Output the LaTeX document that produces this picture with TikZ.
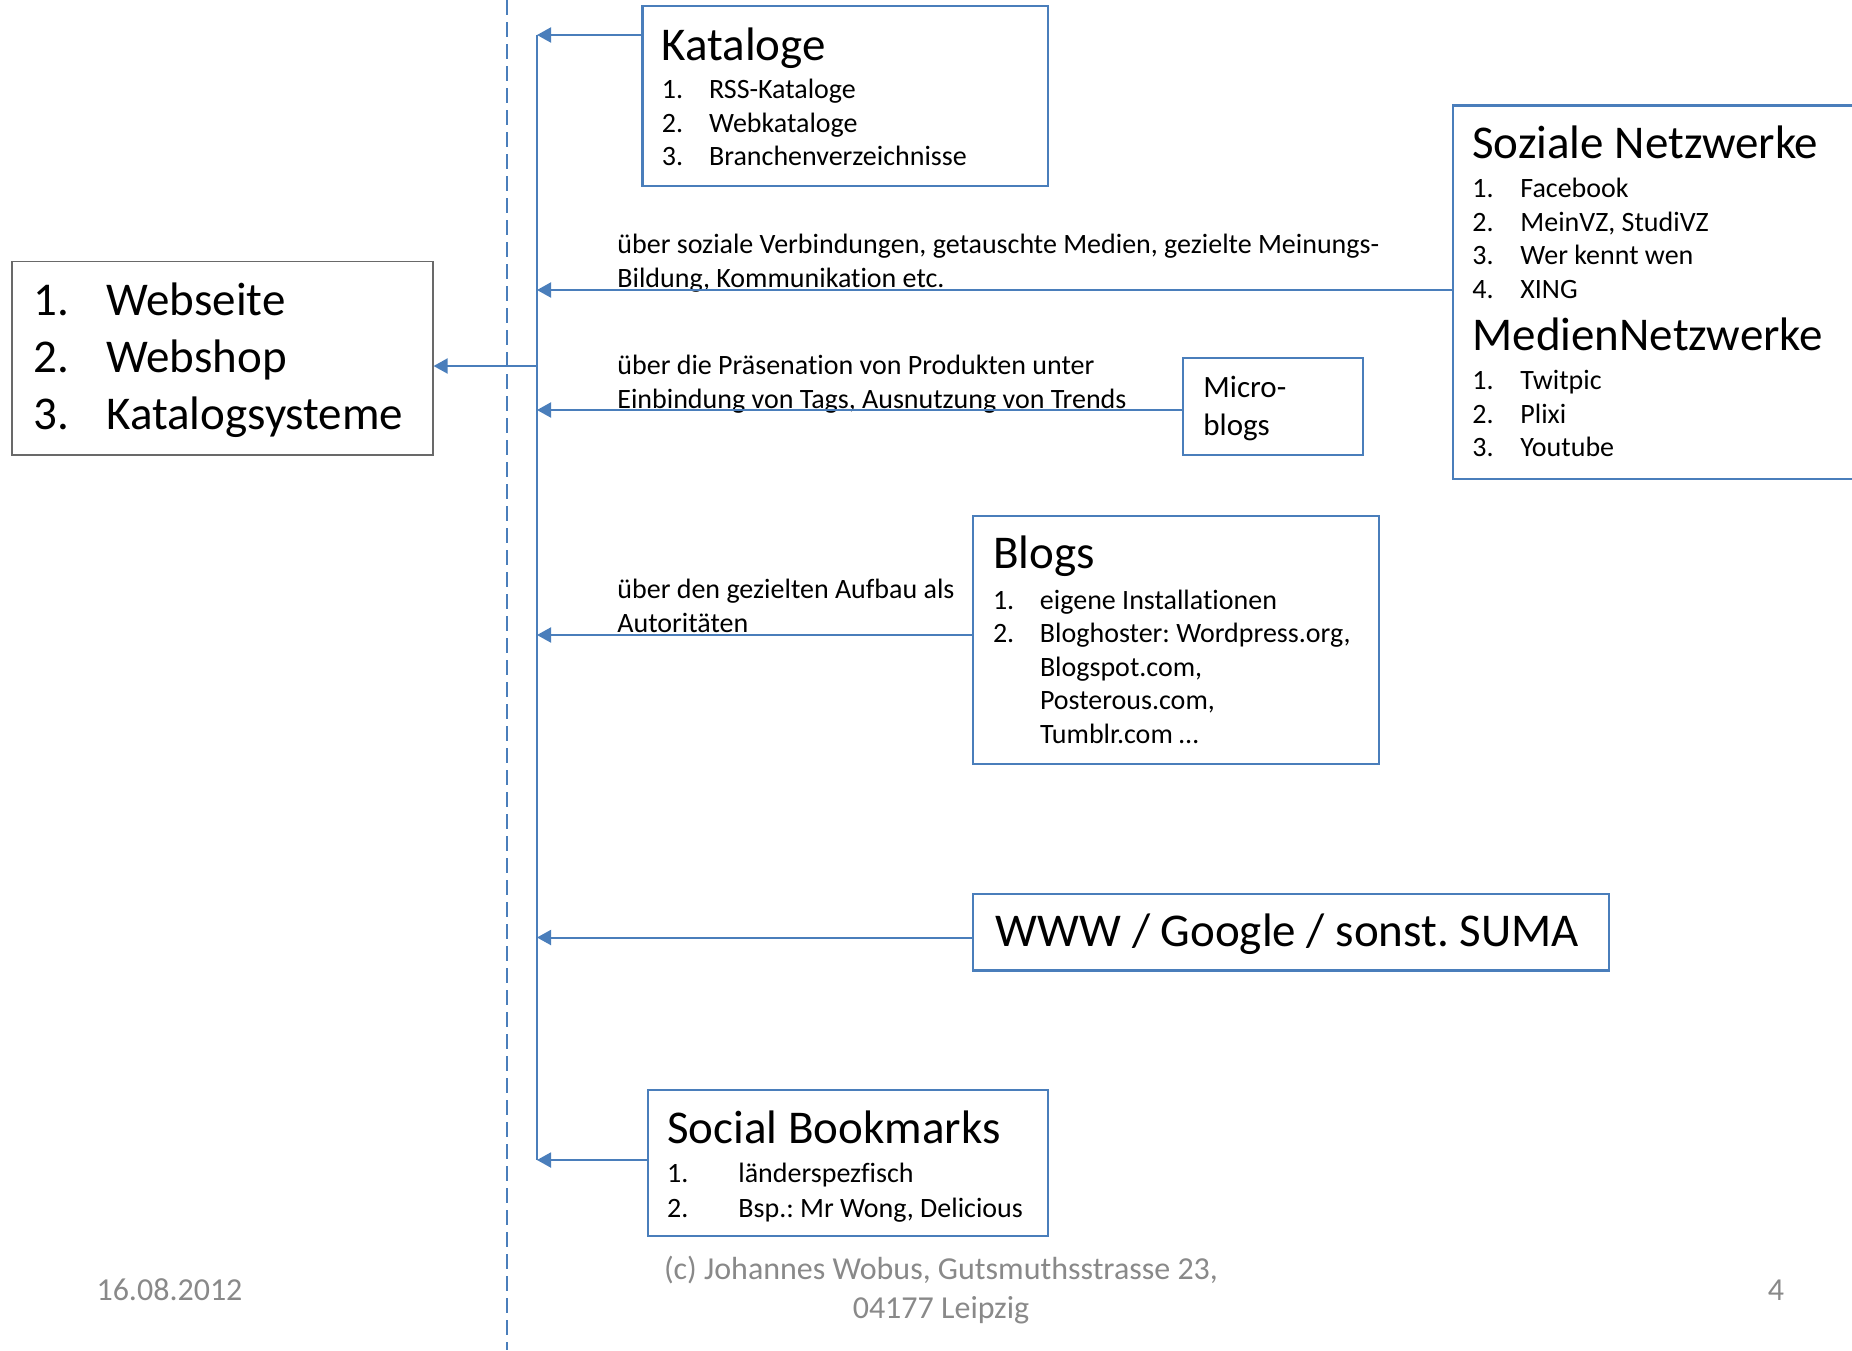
\documentclass[tikz,border=0pt]{standalone}
\usepackage{fontspec}
\setmainfont{Carlito}[Ligatures=CommonOff]
\frenchspacing
\usetikzlibrary{arrows.meta}
\definecolor{accent}{RGB}{74,126,187}
\definecolor{footgray}{RGB}{137,137,137}
\definecolor{boxgray}{RGB}{105,105,105}
\tikzset{
  lbl/.style={anchor=base west, inner sep=0pt, font=\fontsize{14}{16.8}\selectfont},
  big/.style={font=\fontsize{23.5}{28}\selectfont},
  mid/.style={font=\fontsize{15.5}{18.6}\selectfont},
  ttl/.style={anchor=base west, inner sep=0pt, font=\fontsize{23.5}{28}\selectfont},
  boxstyle/.style={draw=accent, line width=1.1pt, anchor=north west, inner sep=0pt},
  graybox/.style={draw=boxgray, line width=0.8pt},
  arr/.style={draw=accent, line width=1pt, -{Triangle[length=7pt,width=7.5pt]}},
  trunk/.style={draw=accent, line width=1pt},
  dashline/.style={draw=accent, line width=0.9pt, dash pattern=on 7.5pt off 3.5pt},
  foot/.style={text=footgray, font=\fontsize{16}{19.5}\selectfont, inner sep=0pt, anchor=base},
}
\newcommand\entry[6][]{\node[lbl,#1] (#2) at (#3) {\makebox[#4][l]{#5}#6};}
\newcommand\bx[6][]{\node[boxstyle,#1,minimum width={(#5-#3)*0.5pt},minimum height={(#6-#4)*0.5pt}] (#2) at (#3,#4) {};}
\begin{document}
\begin{tikzpicture}[x=0.5pt,y=-0.5pt]
\clip (0,0) rectangle (1852,1350);
\useasboundingbox (0,0) rectangle (1852,1350);

% dashed separator
\coordinate (dtop) at (507,0);
\coordinate (dbot) at (507,1350);
\draw[dashline] (dtop) -- (dbot);

% trunk
\coordinate (tK) at (537,35);
\coordinate (tS) at (537,290);
\coordinate (tL) at (537,366);
\coordinate (tM) at (537,410);
\coordinate (tB) at (537,635);
\coordinate (tW) at (537,937.5);
\coordinate (tSB) at (537,1160);
\draw[trunk] (tK) -- (tSB);

% left box
\bx[graybox]{left}{11.4}{260.7}{432}{454}
\entry[big]{l1}{33,315}{36.5pt}{1.}{Webseite}
\entry[big]{l2}{33,372}{36.5pt}{2.}{Webshop}
\entry[big]{l3}{33,429}{36.5pt}{3.}{Katalogsysteme}

% Kataloge
\bx{kat}{641.3}{5}{1047}{185}
\node[ttl] (katT) at (661.4,60) {Kataloge};
\entry{k1}{661.4,98.5}{23.65pt}{1.}{RSS-Kataloge}
\entry{k2}{661.4,132}{23.65pt}{2.}{Webkataloge}
\entry{k3}{661.4,165.5}{23.65pt}{3.}{Branchenverzeichnisse}

% Soziale Netzwerke
\bx{soz}{1451.7}{104.3}{1875}{477.7}
\node[ttl] (sozT) at (1472,158.3) {Soziale Netzwerke};
\entry{s1}{1472,197.3}{24pt}{1.}{Facebook}
\entry{s2}{1472,231}{24pt}{2.}{MeinVZ, StudiVZ}
\entry{s3}{1472,264.7}{24pt}{3.}{Wer kennt wen}
\entry{s4}{1472,298.3}{24pt}{4.}{XING}
\node[ttl] (medT) at (1472,350) {MedienNetzwerke};
\entry{m1}{1472,389.5}{24pt}{1.}{Twitpic}
\entry{m2}{1472,423}{24pt}{2.}{Plixi}
\entry{m3}{1472,456.7}{24pt}{3.}{Youtube}

% labels
\node[lbl] (a1) at (617,253) {über soziale Verbindungen, getauschte Medien, gezielte Meinungs-};
\node[lbl] (a2) at (617,287) {Bildung, Kommunikation etc.};
\node[lbl] (b1) at (617,374) {über die Präsenation von Produkten unter};
\node[lbl] (b2) at (617,408) {Einbindung von Tags, Ausnutzung von Trends};
\node[lbl] (c1) at (617,598) {über den gezielten Aufbau als};
\node[lbl] (c2) at (617,632) {Autoritäten};

% Microblogs
\bx{micro}{1181.6}{357}{1362}{453.5}
\node[lbl,mid] (mi1) at (1203,397) {Micro-};
\node[lbl,mid] (mi2) at (1203,435) {blogs};

% Blogs
\bx{blogs}{972}{515}{1377.5}{762.5}
\node[ttl] (blT) at (992.6,568) {Blogs};
\entry{b1e}{992.6,609}{23.5pt}{1.}{eigene Installationen}
\entry{b2e}{992.6,642.5}{23.5pt}{2.}{Bloghoster: Wordpress.org,}
\entry{b3e}{992.6,676}{23.5pt}{}{Blogspot.com,}
\entry{b4e}{992.6,709.5}{23.5pt}{}{Posterous.com,}
\entry{b5e}{992.6,743}{23.5pt}{}{Tumblr.com …}

% WWW
\bx{www}{972}{892.7}{1607.7}{969.3}
\node[ttl] (wwwT) at (995.5,946.7) {WWW / Google / sonst. SUMA};

% Social Bookmarks
\bx{sb}{646.5}{1089}{1047}{1235}
\node[ttl] (sbT) at (666.8,1143) {Social Bookmarks};
\entry{sb1}{666.8,1182}{35.6pt}{1.}{länderspezfisch}
\entry{sb2}{666.8,1217}{35.6pt}{2.}{Bsp.: Mr Wong, Delicious}

% connectors
\draw[arr] (kat.west |- tK) -- (tK);
\draw[arr] (soz.west |- tS) -- (tS);
\draw[arr] (tL) -- (left.east |- tL);
\draw[arr] (micro.west |- tM) -- (tM);
\draw[arr] (blogs.west |- tB) -- (tB);
\draw[arr] (www.west |- tW) -- (tW);
\draw[arr] (sb.west |- tSB) -- (tSB);

% footer
\node[foot] (date) at (169.5,1300) {16.08.2012};
\node[foot] (copy1) at (941,1279) {(c) Johannes Wobus, Gutsmuthsstrasse 23,};
\node[foot] (copy2) at (941,1318) {04177 Leipzig};
\node[foot] (page) at (1776,1300) {4};
\end{tikzpicture}
\end{document}
